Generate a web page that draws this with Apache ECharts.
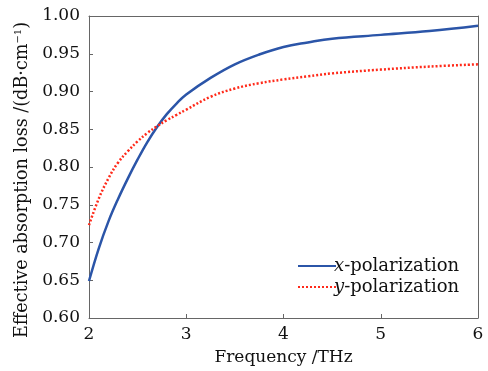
<!DOCTYPE html>
<html>
<head>
<meta charset="utf-8">
<script src="https://cdn.jsdelivr.net/npm/echarts@6/dist/echarts.min.js"></script>
<style>
  html, body { margin: 0; padding: 0; background: #fff; }
  #chart { width: 488px; height: 371px; }
</style>
</head>
<body>
<div id="chart"></div>
<script>
// frequency (THz) samples
const freq = [2.0, 2.1, 2.2, 2.3, 2.4, 2.5, 2.6, 2.7, 2.8, 2.9, 3.0, 3.25, 3.5, 3.75, 4.0, 4.25, 4.5, 5.0, 5.5, 6.0]
const xPol = [0.649, 0.692, 0.728, 0.758, 0.785, 0.810, 0.833, 0.853, 0.870, 0.884, 0.896, 0.918, 0.936, 0.949, 0.959, 0.965, 0.970, 0.975, 0.980, 0.987]
const yPol = [0.723, 0.758, 0.785, 0.806, 0.821, 0.834, 0.845, 0.854, 0.862, 0.869, 0.876, 0.893, 0.904, 0.911, 0.916, 0.920, 0.924, 0.929, 0.933, 0.936]
const legendNames = ['x-polarization', 'y-polarization']

const font = 'DejaVu Serif'
const frame = '#666'
const blue = '#2b55a8'
const red = '#ff2a1a'

const myChart = echarts.init(document.getElementById('chart'))

const option = {
  backgroundColor: '#fff',
  animation: false,
  textStyle: { fontFamily: font, color: '#111' },
  grid: { left: 89, right: 10, top: 16, bottom: 53 },
  legend: {
    orient: 'vertical',
    left: 292,
    top: 252,
    itemGap: 3,
    itemWidth: 38,
    itemHeight: 14,
    itemStyle: { color: 'rgba(0,0,0,0)', borderColor: 'rgba(0,0,0,0)', borderWidth: 0 },
    data: legendNames,
    formatter: n => '{i|' + n.charAt(0) + '}-polarization',
    textStyle: {
      fontFamily: font, fontSize: 18, color: '#111', padding: [0, 0, 0, -7],
      rich: { i: { fontFamily: font, fontStyle: 'italic', fontSize: 18, color: '#111' } }
    }
  },
  xAxis: [
    {
      type: 'value', min: 2, max: 6, interval: 1,
      name: 'Frequency /THz', nameLocation: 'middle', nameGap: 31,
      nameTextStyle: { fontFamily: font, fontSize: 17, color: '#111' },
      axisLine: { lineStyle: { color: frame, width: 1 } },
      axisTick: { inside: true, length: 4, lineStyle: { color: frame } },
      axisLabel: { fontFamily: font, fontSize: 17, color: '#111', margin: 8 },
      splitLine: { show: false }
    },
    {
      type: 'value', min: 2, max: 6, position: 'top',
      axisLine: { show: true, onZero: false, lineStyle: { color: frame, width: 1 } },
      axisTick: { show: false }, axisLabel: { show: false }, splitLine: { show: false }
    }
  ],
  yAxis: [
    {
      type: 'value', min: 0.6, max: 1.0, interval: 0.05,
      name: 'Effective absorption loss /(dB·cm{s|−1})', nameLocation: 'middle', nameGap: 50,
      nameTextStyle: {
        fontFamily: font, fontSize: 17.6, color: '#111', padding: [0, 26, 0, 0],
        rich: { s: { fontFamily: font, fontSize: 10, color: '#111', verticalAlign: 'top', padding: [0, 0, 8, 0] } }
      },
      axisLine: { show: true, lineStyle: { color: frame, width: 1 } },
      axisTick: { show: true, inside: true, length: 4, lineStyle: { color: frame } },
      axisLabel: { fontFamily: font, fontSize: 17, color: '#111', margin: 9, formatter: v => v.toFixed(2) },
      splitLine: { show: false }
    },
    {
      type: 'value', min: 0.6, max: 1.0, position: 'right',
      axisLine: { show: true, onZero: false, lineStyle: { color: frame, width: 1 } },
      axisTick: { show: false }, axisLabel: { show: false }, splitLine: { show: false }
    }
  ],
  series: [
    {
      name: legendNames[0], type: 'line', smooth: 0.4, symbol: 'none',
      data: freq.map((f, i) => [f, xPol[i]]),
      lineStyle: { color: blue, width: 2.5 },
      itemStyle: { color: blue }
    },
    {
      name: legendNames[1], type: 'line', smooth: 0.4, symbol: 'none',
      data: freq.map((f, i) => [f, yPol[i]]),
      lineStyle: { color: red, width: 2.5, type: [2, 2] },
      itemStyle: { color: red }
    }
  ]
}

myChart.setOption(option)
window.addEventListener('resize', function () {
  myChart.resize()
})
</script>
</body>
</html>
